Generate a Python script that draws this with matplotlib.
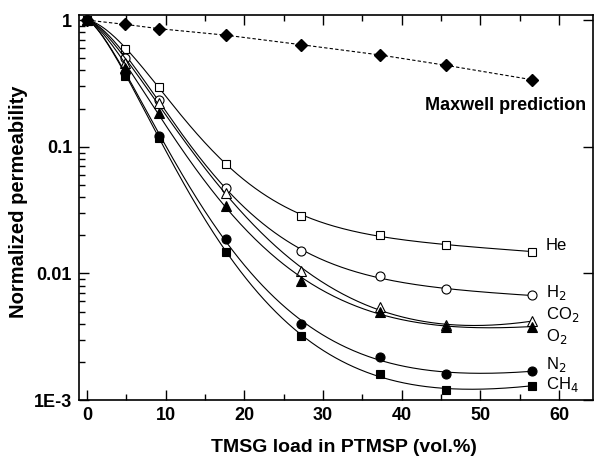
import numpy as np
import matplotlib.pyplot as plt
from matplotlib.ticker import FixedLocator, FuncFormatter, LogLocator, NullFormatter

plt.rcParams['font.family'] = ['Liberation Sans', 'DejaVu Sans']

# TMSG load (vol.%)
load = [0, 4.9, 9.2, 17.7, 27.2, 37.3, 45.6, 56.6]

# normalized permeabilities
maxwell = [1.0, 0.925, 0.855, 0.76, 0.64, 0.53, 0.44, 0.338]
he = [1.0, 0.586, 0.295, 0.073, 0.0286, 0.020, 0.0169, 0.0148]
h2 = [1.0, 0.498, 0.236, 0.047, 0.0149, 0.0095, 0.0075, 0.0067]
co2 = [1.0, 0.46, 0.22, 0.0434, 0.0104, 0.0054, 0.0039, 0.0042]
o2 = [1.0, 0.42, 0.186, 0.034, 0.0087, 0.0050, 0.0038, 0.0038]
n2 = [1.0, 0.38, 0.121, 0.0188, 0.0040, 0.0022, 0.0016, 0.0017]
ch4 = [1.0, 0.365, 0.118, 0.0148, 0.0032, 0.0016, 0.0012, 0.0013]

gases = [
    ("He", he, "s", "white"),
    ("H$_2$", h2, "o", "white"),
    ("CO$_2$", co2, "^", "white"),
    ("O$_2$", o2, "^", "black"),
    ("N$_2$", n2, "o", "black"),
    ("CH$_4$", ch4, "s", "black"),
]
label_y = [0.0165, 0.0071, 0.0047, 0.0032, 0.0019, 0.00132]


def fit_curve(x, y, xs):
    # log10(y) = A*(1 - exp(-(k x)^p)) + B*x ; lstsq for A, B, grid over k, p
    ly = np.log10(y)
    best = None
    for p in np.linspace(1.0, 2.0, 21):
        for k in np.linspace(0.01, 0.2, 190):
            M = np.column_stack([1 - np.exp(-(k * x) ** p), x])
            coef, *_ = np.linalg.lstsq(M, ly, rcond=None)
            err = np.sum((M @ coef - ly) ** 2)
            if best is None or err < best[0]:
                best = (err, k, p, coef)
    _, k, p, (A, B) = best
    return 10 ** (A * (1 - np.exp(-(k * xs) ** p)) + B * xs)


fig = plt.figure(figsize=(5.94, 4.58), dpi=100)
ax = fig.add_axes([0.133, 0.1266, 0.865, 0.8404])
ax.set_yscale("log")

x = np.array(load)
xs = np.linspace(0, x.max(), 300)
for (name, vals, mk, fc), ly in zip(gases, label_y):
    ax.plot(xs, fit_curve(x, np.array(vals), xs), color="black", lw=0.8)
    ax.plot(x, vals, ls="none", marker=mk, ms=6.5 if mk != "s" else 6,
            mfc=fc, mec="black", mew=0.8)
    ax.text(58.3, ly, name, fontsize=12, va="center", ha="left")

ax.plot(x, maxwell, ls=(0, (3, 2)), lw=0.8, color="black",
        marker="D", ms=6.5, mfc="black", mec="black")
ax.text(63.4, 0.21, "Maxwell prediction", fontsize=13, fontweight="bold",
        ha="right", va="center")

ax.set_xlim(-1, 64.3)
ax.set_ylim(1e-3, 1.095)
ax.xaxis.set_major_locator(FixedLocator([0, 10, 20, 30, 40, 50, 60]))
ax.xaxis.set_minor_locator(FixedLocator([5, 15, 25, 35, 45, 55]))
ax.yaxis.set_major_locator(FixedLocator([1e-3, 1e-2, 1e-1, 1]))
ax.yaxis.set_minor_locator(LogLocator(base=10, subs=np.arange(2, 10)))
ax.yaxis.set_minor_formatter(NullFormatter())
ylabels = {1e-3: "1E-3", 1e-2: "0.01", 1e-1: "0.1", 1: "1"}
ax.yaxis.set_major_formatter(FuncFormatter(
    lambda v, pos: min(ylabels.items(), key=lambda kv: abs(np.log10(kv[0]) - np.log10(v)))[1]))

ax.tick_params(which="both", direction="in", top=True, right=True, width=1)
ax.tick_params(which="major", length=7, labelsize=13, pad=5)
ax.tick_params(which="minor", length=4, right=False)
for lab in ax.get_xticklabels() + ax.get_yticklabels():
    lab.set_fontweight("bold")
for s in ax.spines.values():
    s.set_linewidth(1.2)

ax.set_xlabel("TMSG load in PTMSP (vol.%)", fontsize=14, fontweight="bold")
ax.set_ylabel("Normalized permeability", fontsize=14.5, fontweight="bold")
ax.xaxis.set_label_coords(0.515, -0.102)
ax.yaxis.set_label_coords(-0.099, 0.515)

fig.savefig("out.png", dpi=100)
